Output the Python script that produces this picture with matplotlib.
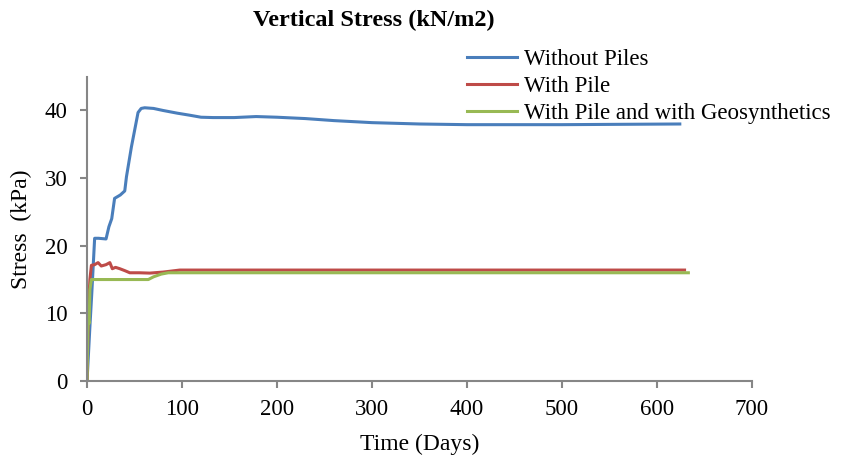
import numpy as np
import matplotlib.pyplot as plt

plt.rcParams['font.family'] = ['Liberation Serif', 'DejaVu Serif']

# Without Piles
t_np = [0, 1.5, 3, 5, 8, 12, 20, 23, 26, 29, 35, 39.7, 41.5, 46.7, 50, 53.7, 57, 60.7,
        70, 80, 95, 108, 120, 132.6, 155, 178, 200, 230, 260, 300, 350, 400, 450, 500, 560, 624]
s_np = [0, 4, 8, 13, 21.1, 21.1, 21.0, 22.8, 24.0, 27.0, 27.5, 28.1, 30.2, 34.6, 37.0, 39.7, 40.3, 40.4,
        40.3, 40.0, 39.6, 39.3, 39.0, 38.95, 38.95, 39.1, 39.0, 38.8, 38.5, 38.2, 38.0, 37.9, 37.9, 37.9, 37.95, 38.0]

# With Pile
t_wp = [0, 1, 2, 3, 4.6, 8, 11.6, 15, 20, 24, 26.6, 30, 34.5, 40, 45, 55, 66, 80, 97.6, 150, 629]
s_wp = [0, 7, 12, 15, 17.1, 17.2, 17.5, 17.0, 17.2, 17.5, 16.6, 16.8, 16.6, 16.3, 16.0, 16.0, 15.95, 16.1, 16.4, 16.4, 16.4]

# With Pile and with Geosynthetics
t_wg = [0, 0.8, 1.4, 2.2, 3, 4.6, 20, 40, 64.5, 70, 78, 85.5, 100, 200, 633]
s_wg = [0, 7, 9, 8.5, 13.5, 15.0, 15.0, 15.0, 15.0, 15.4, 15.8, 16.0, 16.0, 16.0, 16.0]

fig = plt.figure(figsize=(8.5, 4.59), dpi=100)
ax = fig.add_axes([0.1024, 0.17, 0.7823, 0.663])

ax.plot(t_np, s_np, color='#4a7ebb', lw=2.2, label='Without Piles')
ax.plot(t_wp, s_wp, color='#be4b48', lw=2.2, label='With Pile')
ax.plot(t_wg, s_wg, color='#98b954', lw=2.2, label='With Pile and with Geosynthetics')

ax.set_xlim(0, 700)
ax.set_ylim(0, 45)
ax.set_xticks(np.arange(0, 701, 100))
ax.set_yticks(np.arange(0, 41, 10))
for sp in ['top', 'right']:
    ax.spines[sp].set_visible(False)
for sp in ['left', 'bottom']:
    ax.spines[sp].set_color('#868686')
    ax.spines[sp].set_linewidth(1.5)
ax.tick_params(colors='#868686', labelcolor='black', labelsize=16.5, width=1.5, length=5)
ax.tick_params(axis='y', pad=9)
ax.tick_params(axis='x', pad=8)

ax.set_xlabel('Time (Days)', fontsize=17, va='center')
ax.set_ylabel('Stress  (kPa)', fontsize=17, va='center')
ax.xaxis.set_label_coords(0.5, -0.21)
ax.yaxis.set_label_coords(-0.098, 0.5)

fig.text(0.44, 0.956, 'Vertical Stress (kN/m2)', ha='center', va='center',
         fontsize=17.5, fontweight='bold')

fig.legend(loc='upper left', bbox_to_anchor=(0.549, 0.893), frameon=False,
           fontsize=16.5, handlelength=2.2, handletextpad=0.3, labelspacing=0.25,
           borderpad=0, borderaxespad=0)

fig.savefig('out.png', dpi=100)
